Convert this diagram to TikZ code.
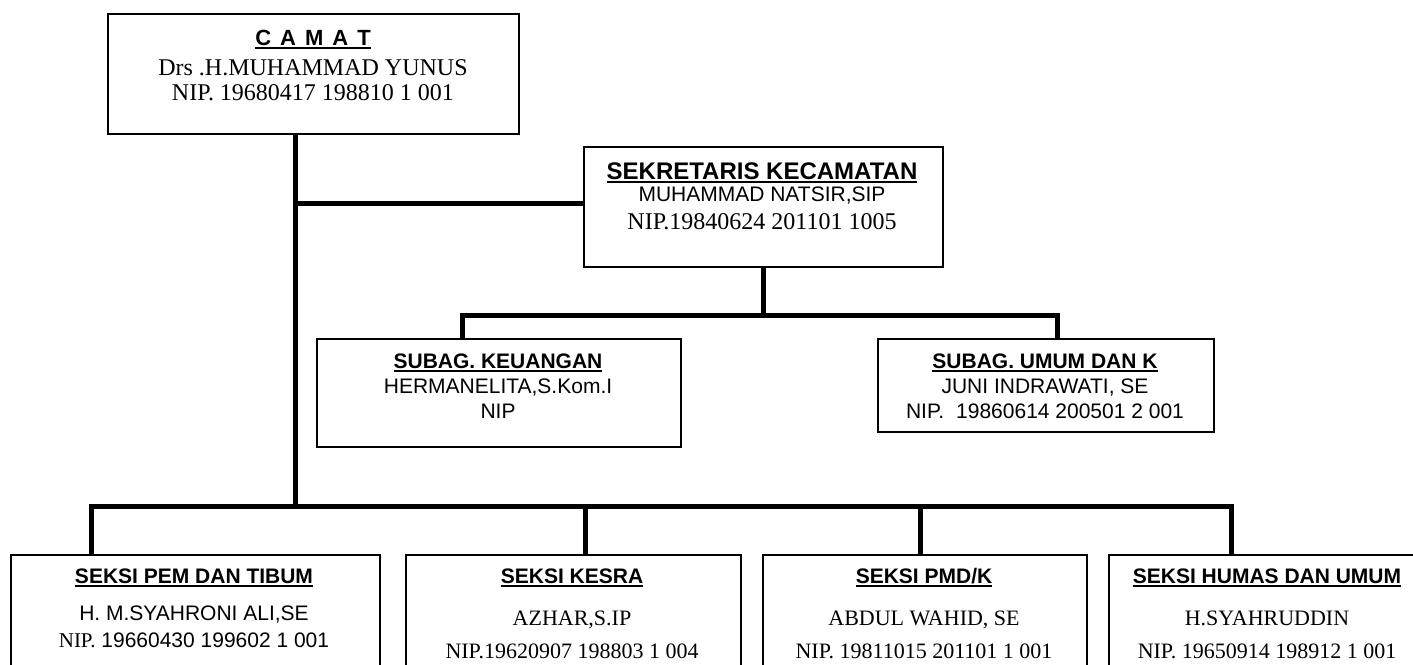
\documentclass[tikz,border=0pt]{standalone}
\usepackage{fontspec}
\setmainfont{Liberation Serif}
\setsansfont{Liberation Sans}
\newcommand{\undr}[1]{\setbox0\hbox{#1}\rlap{\rule[-4pt]{\wd0}{1.8pt}}\box0}

\begin{document}
\begin{tikzpicture}[x=1pt, y=-1pt,
    orgbox/.style={draw, line width=1.6pt, inner sep=0pt, anchor=north west},
    conn/.style={line width=5pt},
    hdr/.style={anchor=base, font=\sffamily\bfseries\fontsize{#1}{25}\selectfont},
    hdr/.default=21,
    sans/.style={anchor=base, font=\sffamily\fontsize{21}{25}\selectfont},
    serif/.style={anchor=base, font=\rmfamily\fontsize{#1}{26}\selectfont},
    serif/.default=22]
    \clip (0,0) rectangle (1413,664);

    % camat
    \node[orgbox, minimum width=411pt, minimum height=120pt] (camat) at (107,13) {};
    \node[hdr=22] (camat-1) at (313,45) {\undr{C\hspace{9pt}A\hspace{9pt}M\hspace{9pt}A\hspace{9pt}T}};
    \node[serif=24] (camat-2) at (313,75) {Drs .H.MUHAMMAD YUNUS};
    \node[serif=24] (camat-3) at (313,100) {NIP. 19680417 198810 1 001};

    % sekretaris
    \node[orgbox, minimum width=359pt, minimum height=120pt] (sek) at (583,146) {};
    \node[hdr=24] (sek-1) at (762,179) {\undr{SEKRETARIS KECAMATAN}};
    \node[sans] (sek-2) at (762,201) {MUHAMMAD NATSIR,SIP};
    \node[serif=24] (sek-3) at (762,229) {NIP.19840624 201101 1005};

    % subag
    \node[orgbox, minimum width=364pt, minimum height=108pt] (keu) at (316,338) {};
    \node[hdr] (keu-1) at (498,368) {\undr{SUBAG. KEUANGAN}};
    \node[sans] (keu-2) at (498,393) {HERMANELITA,S.Kom.I};
    \node[sans] (keu-3) at (498,418) {NIP};
    \node[orgbox, minimum width=336pt, minimum height=93pt] (umum) at (877,338) {};
    \node[hdr] (umum-1) at (1045,368) {\undr{SUBAG. UMUM DAN K}};
    \node[sans] (umum-2) at (1045,393) {JUNI INDRAWATI, SE};
    \node[sans] (umum-3) at (1045,418) {NIP.\hspace{12pt}19860614 200501 2 001};

    % seksi
    \foreach \n/\x/\w/\d in {pem/10/369/91, kesra/405/335/585, pmd/762/324/920, humas/1108/318/1231} {
        \node[orgbox, minimum width=\w pt, minimum height=130pt] (\n) at (\x,554) {};
        \coordinate (\n-d) at (\d,506);
    }
    \node[hdr] (pem-1) at (194,583) {\undr{SEKSI PEM DAN TIBUM}};
    \node[sans] (pem-2) at (194,620) {H. M.SYAHRONI ALI,SE};
    \node[sans] (pem-3) at (194,647) {{\rmfamily NIP.} 19660430 199602 1 001};
    \node[hdr] (kesra-1) at (572,583) {\undr{SEKSI KESRA}};
    \node[serif] (kesra-2) at (572,625) {AZHAR,S.IP};
    \node[serif] (kesra-3) at (572,658) {NIP.19620907 198803 1 004};
    \node[hdr] (pmd-1) at (924,583) {\undr{SEKSI PMD/K}};
    \node[serif] (pmd-2) at (924,625) {ABDUL WAHID, SE};
    \node[serif] (pmd-3) at (924,658) {NIP. 19811015 201101 1 001};
    \node[hdr] (humas-1) at (1267,583) {\undr{SEKSI HUMAS DAN UMUM}};
    \node[serif] (humas-2) at (1267,625) {H.SYAHRUDDIN};
    \node[serif] (humas-3) at (1267,658) {NIP. 19650914 198912 1 001};

    % connectors
    \coordinate (j-sek) at (295,203);
    \coordinate (j-seksi) at (295,506);
    \draw[conn] (camat.south -| j-sek) -- (j-seksi);
    \draw[conn] (j-sek) -- (j-sek -| sek.west);
    \coordinate (keu-d) at (462,315);
    \coordinate (umum-d) at (1057,315);
    \draw[conn] (sek.south) -- (sek.south |- keu-d);
    \draw[conn] (keu.north -| keu-d) -- (keu-d) -- (umum-d) -- (umum.north -| umum-d);
    \draw[conn] (pem.north -| pem-d) -- (pem-d) -- (humas-d) -- (humas.north -| humas-d);
    \foreach \n in {kesra, pmd} \draw[conn] (\n-d) -- (\n.north -| \n-d);
\end{tikzpicture}
\end{document}
